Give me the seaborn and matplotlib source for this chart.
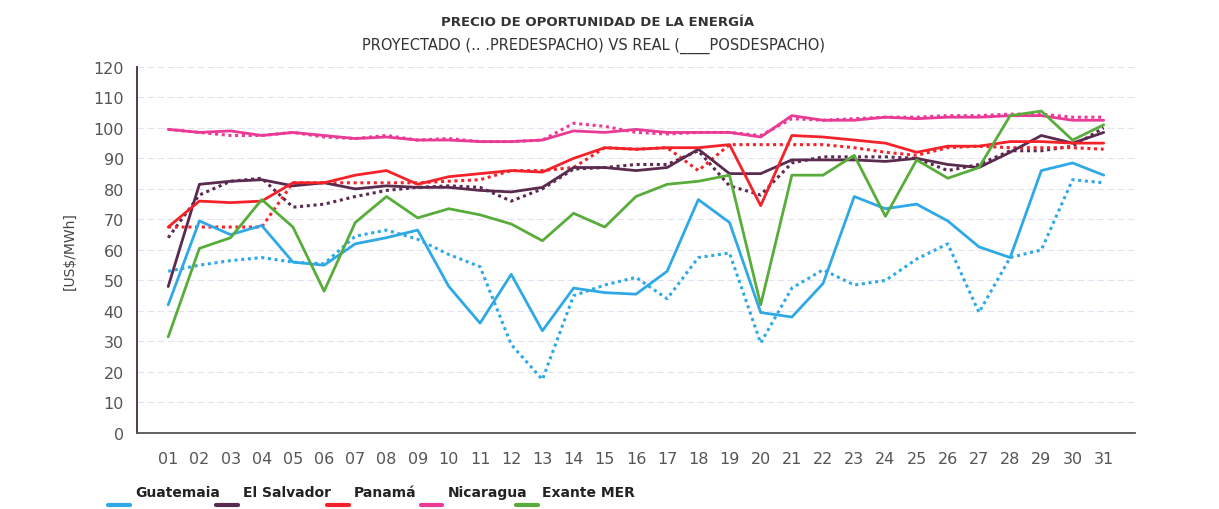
import numpy as np
import pandas as pd
import matplotlib
matplotlib.use("Agg")
import matplotlib.pyplot as plt
import seaborn as sns
from matplotlib.lines import Line2D

# dias del mes
dias = [f"{d:02d}" for d in range(1, 32)]

# posdespacho (real) - linea continua
guatemala_real = [42, 69.5, 65, 68, 56, 55, 62, 64, 66.5, 48, 36, 52, 33.5, 47.5, 46, 45.5,
                  53, 76.5, 69, 39.5, 38, 49, 77.5, 73.5, 75, 69.5, 61, 57.5, 86, 88.5, 84.5]
salvador_real = [48, 81.5, 82.5, 83, 81, 82, 80, 81, 80.5, 80.5, 79.5, 79, 80.5, 87, 87, 86,
                 87, 93, 85, 85, 89.5, 89.5, 89.5, 89, 90, 88, 87, 92, 97.5, 95, 98.5]
panama_real = [67.5, 76, 75.5, 76, 82, 82, 84.5, 86, 81.5, 84, 85, 86, 85.5, 90, 93.5, 93,
               93.5, 93.5, 94.5, 74.5, 97.5, 97, 96, 95, 92, 94, 94, 95.5, 95.5, 95, 95]
nicaragua_real = [99.5, 98.5, 99, 97.5, 98.5, 97.5, 96.5, 97, 96, 96, 95.5, 95.5, 96, 99, 98.5, 99.5,
                  98.5, 98.5, 98.5, 97, 104, 102.5, 102.5, 103.5, 103, 103.5, 103.5, 104, 104, 102.5, 102.5]
exante_mer = [31.5, 60.5, 64, 76.5, 67.5, 46.5, 69, 77.5, 70.5, 73.5, 71.5, 68.5, 63, 72, 67.5, 77.5,
              81.5, 82.5, 84.5, 42, 84.5, 84.5, 91, 71, 89.5, 83.5, 87, 104, 105.5, 96, 101]

# predespacho (proyectado) - linea punteada
guatemala_pre = [53, 55, 56.5, 57.5, 56, 55.5, 64.5, 66.5, 63.5, 58.5, 54.5, 29, 17.5, 45, 48.5, 51,
                 44, 57.5, 59, 29.5, 47.5, 53.5, 48.5, 50, 57, 62, 39.5, 57.5, 60, 83, 82]
salvador_pre = [64, 78, 82.5, 83.5, 74, 75, 77.5, 79.5, 80.5, 81, 80.5, 76, 80, 86.5, 87, 88,
                88, 92.5, 81, 78, 88.5, 90.5, 90.5, 90.5, 90, 86, 88, 92.5, 92.5, 94, 100]
panama_pre = [67.5, 67.5, 67.5, 67.5, 82, 82, 82, 82, 82, 82.5, 83, 86, 86, 87, 93.5, 93,
              93.5, 86, 94.5, 94.5, 94.5, 94.5, 93.5, 92, 91, 93.5, 94, 93.5, 93.5, 93.5, 93]
nicaragua_pre = [99.5, 98.5, 97.5, 97.5, 98.5, 97, 96.5, 97.5, 96, 96.5, 95.5, 95.5, 96, 101.5, 100.5, 98.5,
                 98, 98.5, 98.5, 97.5, 103, 102.5, 103, 103.5, 103.5, 104, 104, 104.5, 104.5, 103.5, 103.5]

nombres = ["Guatemaia", "El Salvador", "Panamá", "Nicaragua", "Exante MER"]
colores = ["#2fa8e6", "#5b2a4f", "#f5222a", "#ea3a96", "#58ad3a"]

reales = [guatemala_real, salvador_real, panama_real, nicaragua_real, exante_mer]
pres = [guatemala_pre, salvador_pre, panama_pre, nicaragua_pre, None]

filas = []
for nom, r, p in zip(nombres, reales, pres):
    for i, d in enumerate(dias):
        filas.append({"dia": i, "serie": nom, "tipo": "real", "valor": r[i]})
        if p is not None:
            filas.append({"dia": i, "serie": nom, "tipo": "pre", "valor": p[i]})
df = pd.DataFrame(filas)

sns.set_style("white")
fig = plt.figure(figsize=(12.19, 5.10), dpi=100)
ax = fig.add_axes([0.1124, 0.149, 0.8186, 0.718])

# grilla tenue
for v in range(10, 121, 10):
    ax.axhline(v, color="#e2e2f0", lw=0.8, ls=(0, (6, 3)), zorder=0)

pal = dict(zip(nombres, colores))
# primero las punteadas (predespacho), luego las reales
sns.lineplot(data=df[df["tipo"] == "pre"], x="dia", y="valor", hue="serie", palette=pal,
             ax=ax, legend=False, lw=2.2, linestyle=(0, (1, 1.2)), estimator=None, sort=False)
sns.lineplot(data=df[df["tipo"] == "real"], x="dia", y="valor", hue="serie", palette=pal,
             ax=ax, legend=False, lw=2.0, estimator=None, sort=False)

ax.set_xlim(-1, 31)
ax.set_ylim(0, 120)
ax.set_xticks(range(len(dias)))
ax.set_xticklabels(dias)
ax.set_xticks([-1, 31], minor=True)
ax.set_yticks(range(0, 121, 10))
ax.tick_params(axis="both", which="both", direction="out", length=6, width=1, color="#444444",
               labelsize=11.5, labelcolor="#555555")
ax.tick_params(axis="x", pad=7)
for s in ["top", "right"]:
    ax.spines[s].set_visible(False)
ax.spines["left"].set_color("#4a2a40")
ax.spines["bottom"].set_color("#555555")
ax.spines["left"].set_linewidth(1.3)
ax.spines["bottom"].set_linewidth(1.3)
ax.set_xlabel("")
ax.set_ylabel("[US$/MWh]", fontsize=10, color="#444444", labelpad=12)

fig.text(0.49, 0.955, "PRECIO DE OPORTUNIDAD DE LA ENERGÍA", ha="center", va="center",
         fontsize=9.5, fontweight="bold", color="#333333")
fig.text(0.487, 0.91, "PROYECTADO (.. .PREDESPACHO) VS REAL (____POSDESPACHO)", ha="center",
         va="center", fontsize=10.5, color="#333333")

# leyenda manual: texto arriba, trazo corto abajo a la izquierda
tx = [0.111, 0.199, 0.290, 0.367, 0.445]
for nom, col, x0 in zip(nombres, colores, tx):
    fig.text(x0, 0.033, nom, ha="left", va="center", fontsize=10, fontweight="bold",
             color="#222222")
    fig.add_artist(Line2D([x0 - 0.022, x0 - 0.004], [0.008, 0.008], color=col, lw=3,
                          transform=fig.transFigure))

plt.savefig("out.png", dpi=100)
